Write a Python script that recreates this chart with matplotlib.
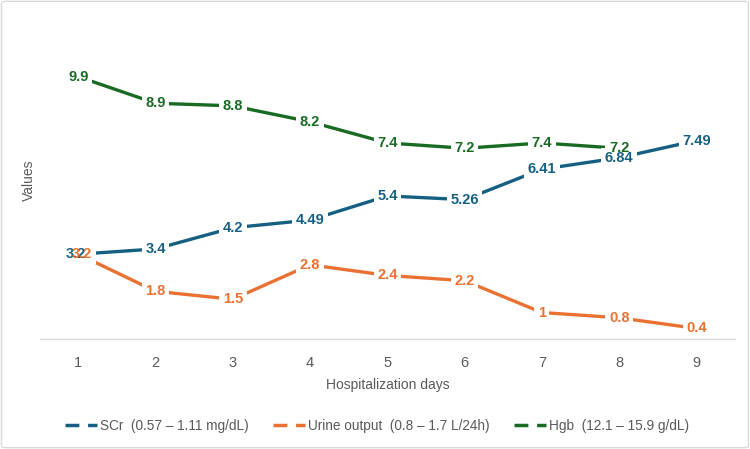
import matplotlib
matplotlib.use("Agg")
import matplotlib.pyplot as plt
from matplotlib.lines import Line2D
from matplotlib.patches import FancyBboxPatch, Rectangle

days = [1, 2, 3, 4, 5, 6, 7, 8, 9]
scr = [3.2, 3.4, 4.2, 4.49, 5.4, 5.26, 6.41, 6.84, 7.49]
urine = [3.2, 1.8, 1.5, 2.8, 2.4, 2.2, 1, 0.8, 0.4]
hgb = [9.9, 8.9, 8.8, 8.2, 7.4, 7.2, 7.4, 7.2]
hgb_days = days[:len(hgb)]

scr_label = "SCr  (0.57 – 1.11 mg/dL)"
urine_label = "Urine output  (0.8 – 1.7 L/24h)"
hgb_label = "Hgb  (12.1 – 15.9 g/dL)"

c_blue = "#156082"
c_orange = "#E97132"
c_green = "#196B24"
c_text = "#595959"

plt.rcParams['font.family'] = ['Liberation Sans', 'DejaVu Sans']

fig = plt.figure(figsize=(7.5, 4.49), dpi=100)
ax = fig.add_axes([0.053, 0.245, 0.927, 0.708])

series = [
    (days, scr, c_blue, scr_label, -2),
    (days, urine, c_orange, urine_label, 2.5),
    (hgb_days, hgb, c_green, hgb_label, 0),
]
for xs, ys, col, lab, dx in series:
    ax.plot(xs, ys, color=col, lw=2.4, solid_capstyle='butt', zorder=2)

texts = []
for xs, ys, col, lab, dx in series:
    for i, (x, y) in enumerate(zip(xs, ys)):
        ddx = dx if i == 0 else 0
        t = ax.annotate(f"{y:g}", (x, y), xytext=(ddx, 0), textcoords='offset points',
                        ha='center', va='center', fontsize=10.5, fontweight='bold', color=col,
                        zorder=4)
        texts.append(t)

ax.set_xlim(0.5, 9.5)
ax.set_ylim(0, 12)
ax.set_xticks(days)
ax.set_xticklabels([str(d) for d in days], fontsize=10.5, color=c_text)
ax.set_yticks([])
ax.tick_params(axis='x', length=0, pad=12)
for s in ['top', 'right', 'left']:
    ax.spines[s].set_visible(False)
ax.spines['bottom'].set_color('#d9d9d9')
ax.spines['bottom'].set_linewidth(1)
ax.set_xlabel("Hospitalization days", fontsize=10, color=c_text, labelpad=6)
ax.set_ylabel("Values", fontsize=10, color=c_text, labelpad=3)

handles = [Line2D([0], [0], color=c, lw=2.5, ls=(0, (4, 2.5))) for c in (c_blue, c_orange, c_green)]
fig.legend(handles, [scr_label, urine_label, hgb_label], loc='center', bbox_to_anchor=(0.503, 0.052),
           ncol=3, frameon=False, fontsize=9.8, labelcolor=c_text, handlelength=2.3,
           columnspacing=1.8, handletextpad=0.25)

border = FancyBboxPatch((0.002, 0.003), 0.996, 0.994, boxstyle='round,pad=0,rounding_size=0.005',
                        transform=fig.transFigure, fc='none', ec='#d9d9d9', lw=1)
fig.patches.append(border)

# white knock-out boxes behind the labels (break the lines like the reference)
fig.canvas.draw()
r = fig.canvas.get_renderer()
pad = 3.5
for t in texts:
    bb = t.get_window_extent(r)
    inv = ax.transData.inverted()
    (x0, y0) = inv.transform((bb.x0 - pad, bb.y0 - pad + 1))
    (x1, y1) = inv.transform((bb.x1 + pad, bb.y1 + pad - 1))
    ax.add_patch(Rectangle((x0, y0), x1 - x0, y1 - y0, fc='white', ec='none', zorder=3,
                           clip_on=False))

fig.savefig("out.png", dpi=100, facecolor='white')
